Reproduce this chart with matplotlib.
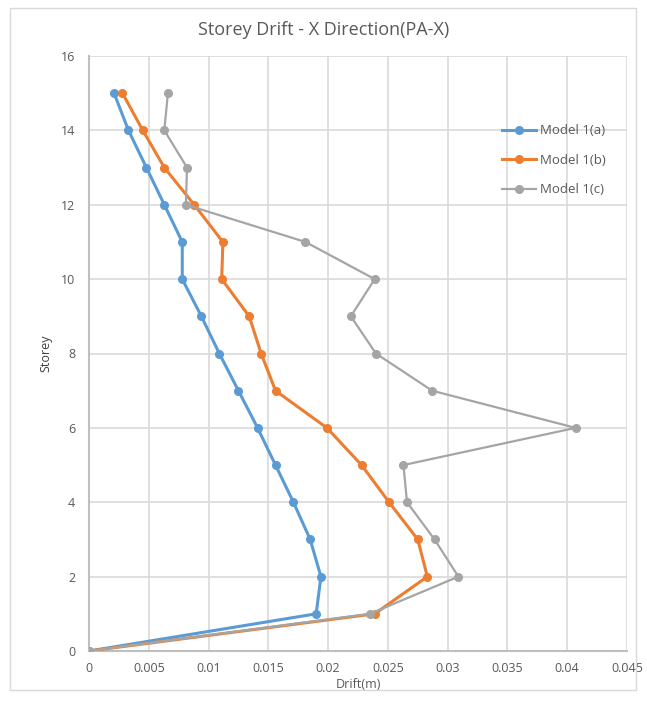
import matplotlib.pyplot as plt
from matplotlib.patches import Rectangle

plt.rcParams['font.family'] = ['Open Sans', 'DejaVu Sans']

storey = [0, 1, 2, 3, 4, 5, 6, 7, 8, 9, 10, 11, 12, 13, 14, 15]
drift_a = [0, 0.0190, 0.0194, 0.0185, 0.0171, 0.0156, 0.0141, 0.0125, 0.0109,
           0.0094, 0.0078, 0.0078, 0.0063, 0.0048, 0.0033, 0.0021]
drift_b = [0, 0.0239, 0.0283, 0.0275, 0.0251, 0.0228, 0.0199, 0.0156, 0.0144,
           0.0134, 0.0111, 0.0112, 0.0088, 0.0063, 0.0045, 0.0028]
drift_c = [0, 0.0235, 0.0309, 0.0289, 0.0266, 0.0263, 0.0407, 0.0287, 0.0240,
           0.0219, 0.0239, 0.0181, 0.0081, 0.0082, 0.0063, 0.0066]
labels = ["Model 1(a)", "Model 1(b)", "Model 1(c)"]
colors = ["#5B9BD5", "#ED7D31", "#A5A5A5"]

fig = plt.figure(figsize=(6.47, 7.02), dpi=100)
ax = fig.add_axes([89 / 647, 1 - 651 / 702, 538 / 647, 595 / 702])

# chart border
fig.patches.append(Rectangle((10 / 647, 12 / 702), 626 / 647, 682 / 702,
                             transform=fig.transFigure, fill=False,
                             edgecolor="#D9D9D9", linewidth=1))

for d, lab, c, lw in zip([drift_a, drift_b, drift_c], labels, colors, [2.2, 2.2, 1.6]):
    ax.plot(d, storey, color=c, linewidth=lw, marker="o", markersize=5.5,
            label=lab, zorder=3)

ax.set_xlim(0, 0.045)
ax.set_ylim(0, 16)
ax.set_xticks([0, 0.005, 0.01, 0.015, 0.02, 0.025, 0.03, 0.035, 0.04, 0.045])
ax.set_xticklabels(["0", "0.005", "0.01", "0.015", "0.02", "0.025", "0.03",
                    "0.035", "0.04", "0.045"])
ax.set_yticks(range(0, 17, 2))
ax.grid(True, color="#D9D9D9", linewidth=1.2)
ax.set_axisbelow(True)
for s in ["top", "right"]:
    ax.spines[s].set_visible(False)
for s in ["left", "bottom"]:
    ax.spines[s].set_color("#BFBFBF")
    ax.spines[s].set_linewidth(1.5)
ax.tick_params(length=0, colors="#595959", labelsize=9, pad=10)
ax.tick_params(axis="x", pad=8)

ax.set_xlabel("Drift(m)", color="#595959", fontsize=9, labelpad=2)
ax.set_ylabel("Storey", color="#404040", fontsize=9, labelpad=6)
fig.text(0.5, 1 - 30 / 702, "Storey Drift - X Direction(PA-X)",
         ha="center", va="center", fontsize=13, color="#595959")

ax.legend(loc="upper left", bbox_to_anchor=(0.745, 0.905), frameon=False,
          fontsize=9.5, labelcolor="#595959", handlelength=2.6,
          handletextpad=0.3, labelspacing=1.25)

fig.savefig("out.png", dpi=100)
